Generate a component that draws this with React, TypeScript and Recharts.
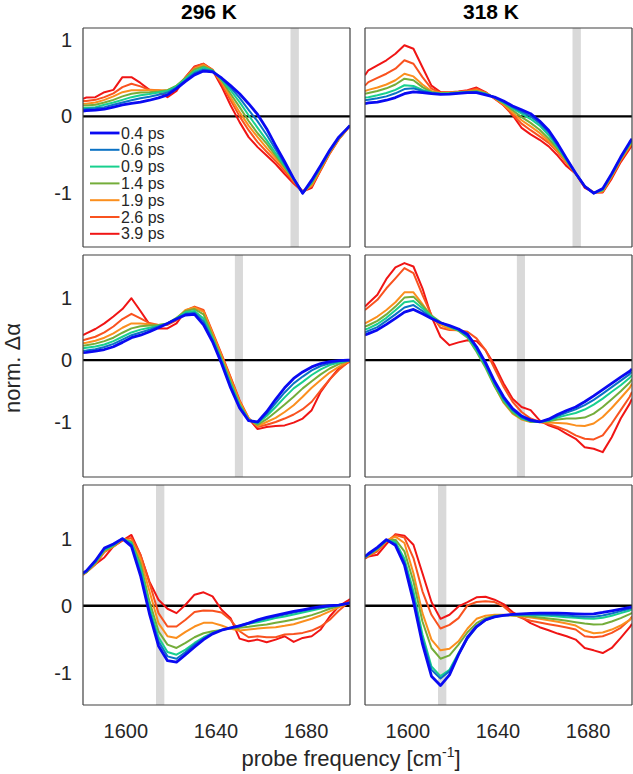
import { LineChart, Line, XAxis, YAxis, ReferenceLine, ReferenceArea } from "recharts";

// probe frequency grid (cm-1)
const FREQ = [
  1581, 1582.5, 1586.5, 1590.5, 1594.5, 1598.5, 1602.5, 1606.5, 1610.5, 1614.5, 1618.5,
  1622.5, 1626.5, 1630.5, 1634.5, 1638.5, 1642.5, 1646.5, 1650.5, 1654.5, 1658.5, 1662.5,
  1666.5, 1670.5, 1674.5, 1678.5, 1682.5, 1686.5, 1690.5, 1694.5, 1698.5, 1699.5,
];

const DELAYS = ["0.4 ps", "0.6 ps", "0.9 ps", "1.4 ps", "1.9 ps", "2.6 ps", "3.9 ps"];
const TEMPS = ["296 K", "318 K"];
const X_TICKS = [1600, 1640, 1680];
const Y_TICKS = [-1, 0, 1];
// grey marker bands, one per row
const BANDS = [
  [1673.1, 1676.8],
  [1648.4, 1652],
  [1613.4, 1617.1],
];

// row 1, 296 K
const top296 = [
  [0.07, 0.075, 0.08, 0.095, 0.12, 0.15, 0.17, 0.185, 0.21, 0.24, 0.28, 0.36, 0.455, 0.54, 0.59, 0.58, 0.5, 0.4, 0.295, 0.165, 0.025, -0.16, -0.38, -0.59, -0.81, -1.0, -0.83, -0.64, -0.44, -0.27, -0.15, -0.12],
  [0.09, 0.095, 0.105, 0.12, 0.15, 0.18, 0.21, 0.235, 0.255, 0.28, 0.31, 0.375, 0.47, 0.565, 0.61, 0.59, 0.495, 0.375, 0.24, 0.085, -0.065, -0.24, -0.43, -0.62, -0.81, -1.0, -0.84, -0.645, -0.445, -0.275, -0.15, -0.12],
  [0.11, 0.11, 0.12, 0.15, 0.18, 0.215, 0.25, 0.275, 0.29, 0.31, 0.33, 0.39, 0.49, 0.585, 0.635, 0.595, 0.48, 0.34, 0.185, 0.015, -0.15, -0.31, -0.48, -0.645, -0.815, -1.0, -0.855, -0.655, -0.45, -0.28, -0.15, -0.12],
  [0.14, 0.14, 0.15, 0.18, 0.215, 0.26, 0.295, 0.31, 0.315, 0.325, 0.34, 0.4, 0.5, 0.61, 0.65, 0.6, 0.47, 0.295, 0.12, -0.06, -0.22, -0.355, -0.51, -0.66, -0.825, -0.995, -0.875, -0.67, -0.46, -0.285, -0.15, -0.12],
  [0.165, 0.165, 0.18, 0.215, 0.26, 0.315, 0.34, 0.34, 0.34, 0.34, 0.34, 0.39, 0.5, 0.62, 0.67, 0.6, 0.45, 0.25, 0.055, -0.12, -0.27, -0.41, -0.54, -0.68, -0.83, -0.985, -0.9, -0.68, -0.47, -0.295, -0.155, -0.125],
  [0.2, 0.2, 0.215, 0.25, 0.3, 0.38, 0.425, 0.39, 0.345, 0.34, 0.315, 0.38, 0.51, 0.64, 0.685, 0.61, 0.425, 0.21, 0.0, -0.18, -0.335, -0.46, -0.58, -0.71, -0.855, -0.97, -0.91, -0.7, -0.485, -0.3, -0.16, -0.13],
  [0.23, 0.245, 0.25, 0.315, 0.345, 0.51, 0.51, 0.435, 0.345, 0.315, 0.25, 0.33, 0.51, 0.65, 0.685, 0.6, 0.39, 0.145, -0.075, -0.27, -0.4, -0.51, -0.62, -0.75, -0.875, -0.98, -0.93, -0.7, -0.48, -0.3, -0.16, -0.13],
];

// row 1, 318 K
const top318 = [
  [0.165, 0.175, 0.185, 0.21, 0.245, 0.295, 0.32, 0.31, 0.295, 0.285, 0.29, 0.3, 0.31, 0.31, 0.28, 0.25, 0.2, 0.135, 0.085, 0.035, -0.06, -0.18, -0.355, -0.55, -0.74, -0.91, -1.0, -0.94, -0.745, -0.53, -0.335, -0.29],
  [0.21, 0.215, 0.235, 0.26, 0.3, 0.355, 0.365, 0.33, 0.305, 0.29, 0.295, 0.305, 0.31, 0.315, 0.29, 0.25, 0.19, 0.12, 0.06, 0.0, -0.09, -0.21, -0.38, -0.56, -0.74, -0.91, -1.0, -0.945, -0.75, -0.535, -0.345, -0.3],
  [0.245, 0.25, 0.275, 0.305, 0.345, 0.405, 0.395, 0.345, 0.31, 0.295, 0.3, 0.31, 0.315, 0.32, 0.295, 0.245, 0.18, 0.105, 0.035, -0.035, -0.12, -0.245, -0.4, -0.57, -0.74, -0.91, -1.0, -0.955, -0.76, -0.54, -0.355, -0.31],
  [0.295, 0.305, 0.33, 0.365, 0.415, 0.49, 0.47, 0.38, 0.315, 0.3, 0.305, 0.31, 0.32, 0.33, 0.3, 0.245, 0.17, 0.08, -0.01, -0.085, -0.175, -0.29, -0.425, -0.58, -0.745, -0.91, -0.995, -0.965, -0.77, -0.555, -0.37, -0.325],
  [0.33, 0.345, 0.375, 0.415, 0.47, 0.555, 0.52, 0.415, 0.33, 0.305, 0.31, 0.315, 0.325, 0.34, 0.305, 0.24, 0.155, 0.05, -0.05, -0.13, -0.215, -0.32, -0.45, -0.595, -0.745, -0.91, -0.99, -0.975, -0.78, -0.565, -0.385, -0.345],
  [0.4, 0.445, 0.5, 0.555, 0.62, 0.73, 0.685, 0.51, 0.36, 0.31, 0.31, 0.32, 0.335, 0.36, 0.31, 0.235, 0.145, 0.025, -0.095, -0.18, -0.26, -0.345, -0.465, -0.61, -0.745, -0.91, -0.99, -0.985, -0.79, -0.575, -0.4, -0.355],
  [0.535, 0.6, 0.665, 0.73, 0.815, 0.925, 0.88, 0.64, 0.4, 0.315, 0.315, 0.325, 0.34, 0.375, 0.315, 0.23, 0.145, 0.015, -0.15, -0.235, -0.305, -0.39, -0.51, -0.65, -0.745, -0.93, -0.99, -0.99, -0.81, -0.595, -0.42, -0.38],
];

// row 2, 296 K
const mid296 = [
  [0.12, 0.125, 0.145, 0.17, 0.215, 0.285, 0.36, 0.4, 0.455, 0.52, 0.59, 0.66, 0.725, 0.735, 0.565, 0.295, -0.055, -0.445, -0.77, -0.975, -0.995, -0.83, -0.63, -0.445, -0.295, -0.19, -0.11, -0.055, -0.025, -0.01, 0.0, 0.0],
  [0.15, 0.155, 0.175, 0.21, 0.26, 0.33, 0.4, 0.445, 0.49, 0.54, 0.59, 0.665, 0.745, 0.76, 0.62, 0.32, -0.025, -0.415, -0.745, -0.97, -1.005, -0.865, -0.69, -0.52, -0.375, -0.265, -0.165, -0.095, -0.05, -0.02, -0.005, 0.0],
  [0.19, 0.2, 0.22, 0.25, 0.305, 0.375, 0.445, 0.49, 0.52, 0.55, 0.59, 0.67, 0.77, 0.79, 0.67, 0.35, -0.005, -0.38, -0.725, -0.96, -1.015, -0.9, -0.755, -0.6, -0.455, -0.35, -0.24, -0.15, -0.08, -0.04, -0.01, -0.005],
  [0.23, 0.24, 0.265, 0.305, 0.36, 0.44, 0.51, 0.545, 0.555, 0.565, 0.59, 0.68, 0.79, 0.82, 0.735, 0.385, 0.025, -0.35, -0.705, -0.955, -1.04, -0.95, -0.835, -0.715, -0.59, -0.455, -0.34, -0.23, -0.135, -0.065, -0.015, -0.005],
  [0.27, 0.28, 0.31, 0.36, 0.43, 0.52, 0.59, 0.59, 0.575, 0.565, 0.575, 0.67, 0.805, 0.845, 0.78, 0.425, 0.065, -0.305, -0.67, -0.94, -1.06, -0.995, -0.93, -0.835, -0.725, -0.59, -0.445, -0.32, -0.2, -0.11, -0.025, -0.01],
  [0.32, 0.335, 0.375, 0.445, 0.54, 0.66, 0.745, 0.67, 0.595, 0.565, 0.565, 0.64, 0.8, 0.86, 0.805, 0.455, 0.095, -0.27, -0.645, -0.93, -1.075, -1.04, -0.995, -0.94, -0.875, -0.79, -0.67, -0.485, -0.31, -0.16, -0.04, -0.015],
  [0.4, 0.43, 0.5, 0.59, 0.7, 0.82, 0.995, 0.79, 0.575, 0.51, 0.51, 0.59, 0.79, 0.845, 0.79, 0.43, 0.08, -0.285, -0.66, -0.94, -1.11, -1.075, -1.06, -1.05, -1.005, -0.94, -0.805, -0.51, -0.31, -0.135, -0.04, -0.015],
];

// row 2, 318 K
const mid318 = [
  [0.405, 0.425, 0.485, 0.575, 0.67, 0.77, 0.815, 0.745, 0.67, 0.6, 0.555, 0.5, 0.415, 0.215, -0.04, -0.34, -0.59, -0.78, -0.9, -0.965, -0.995, -0.95, -0.875, -0.81, -0.755, -0.67, -0.575, -0.475, -0.375, -0.275, -0.18, -0.145],
  [0.445, 0.47, 0.53, 0.63, 0.735, 0.845, 0.885, 0.79, 0.68, 0.6, 0.55, 0.49, 0.39, 0.19, -0.07, -0.365, -0.62, -0.8, -0.92, -0.98, -0.995, -0.965, -0.9, -0.845, -0.79, -0.725, -0.64, -0.54, -0.435, -0.33, -0.225, -0.19],
  [0.49, 0.51, 0.58, 0.68, 0.8, 0.93, 0.95, 0.835, 0.7, 0.6, 0.54, 0.48, 0.375, 0.16, -0.095, -0.39, -0.645, -0.82, -0.935, -0.985, -0.995, -0.975, -0.925, -0.885, -0.85, -0.795, -0.715, -0.62, -0.51, -0.405, -0.285, -0.24],
  [0.54, 0.56, 0.63, 0.735, 0.86, 1.005, 1.02, 0.875, 0.715, 0.61, 0.53, 0.47, 0.36, 0.135, -0.125, -0.42, -0.67, -0.845, -0.945, -0.99, -0.995, -0.985, -0.955, -0.94, -0.94, -0.925, -0.86, -0.755, -0.63, -0.5, -0.36, -0.31],
  [0.59, 0.62, 0.7, 0.805, 0.93, 1.09, 1.09, 0.9, 0.7, 0.565, 0.5, 0.48, 0.405, 0.18, -0.09, -0.415, -0.685, -0.86, -0.955, -0.995, -0.995, -1.005, -1.01, -1.02, -1.05, -1.06, -1.02, -0.915, -0.77, -0.61, -0.445, -0.38],
  [0.805, 0.85, 0.97, 1.155, 1.315, 1.48, 1.4, 1.05, 0.725, 0.52, 0.485, 0.48, 0.455, 0.35, 0.16, -0.135, -0.43, -0.67, -0.835, -0.94, -0.995, -1.03, -1.075, -1.13, -1.21, -1.265, -1.275, -1.21, -1.02, -0.805, -0.59, -0.51],
  [0.86, 0.915, 1.05, 1.305, 1.49, 1.56, 1.505, 1.155, 0.7, 0.375, 0.24, 0.285, 0.32, 0.305, 0.16, -0.08, -0.375, -0.62, -0.755, -0.805, -0.97, -1.05, -1.1, -1.185, -1.265, -1.4, -1.425, -1.48, -1.24, -0.94, -0.7, -0.62],
];

// row 3, 296 K
const bot296 = [
  [0.485, 0.52, 0.67, 0.86, 0.92, 1.0, 0.885, 0.45, -0.12, -0.6, -0.82, -0.84, -0.73, -0.615, -0.505, -0.42, -0.365, -0.33, -0.3, -0.26, -0.21, -0.175, -0.145, -0.115, -0.085, -0.06, -0.035, -0.015, 0.0, 0.01, 0.035, 0.045],
  [0.485, 0.52, 0.67, 0.85, 0.91, 1.0, 0.91, 0.5, -0.085, -0.53, -0.755, -0.79, -0.69, -0.58, -0.49, -0.41, -0.36, -0.33, -0.295, -0.26, -0.225, -0.19, -0.16, -0.13, -0.1, -0.075, -0.05, -0.025, -0.005, 0.01, 0.035, 0.045],
  [0.48, 0.51, 0.65, 0.835, 0.9, 1.0, 0.935, 0.57, -0.025, -0.47, -0.69, -0.73, -0.655, -0.555, -0.47, -0.405, -0.36, -0.33, -0.305, -0.27, -0.245, -0.215, -0.185, -0.16, -0.13, -0.1, -0.07, -0.04, -0.015, 0.005, 0.035, 0.045],
  [0.47, 0.5, 0.635, 0.82, 0.89, 0.995, 0.95, 0.63, 0.065, -0.38, -0.58, -0.63, -0.555, -0.47, -0.41, -0.38, -0.36, -0.34, -0.33, -0.315, -0.295, -0.28, -0.255, -0.23, -0.205, -0.175, -0.14, -0.095, -0.045, -0.005, 0.035, 0.045],
  [0.47, 0.5, 0.63, 0.81, 0.885, 0.995, 0.97, 0.7, 0.215, -0.26, -0.455, -0.48, -0.39, -0.31, -0.255, -0.255, -0.295, -0.345, -0.37, -0.355, -0.34, -0.33, -0.32, -0.3, -0.275, -0.235, -0.195, -0.145, -0.085, -0.025, 0.035, 0.05],
  [0.47, 0.5, 0.62, 0.8, 0.88, 0.985, 1.01, 0.76, 0.34, -0.11, -0.31, -0.31, -0.21, -0.095, -0.07, -0.075, -0.1, -0.21, -0.38, -0.47, -0.455, -0.47, -0.47, -0.43, -0.42, -0.405, -0.37, -0.31, -0.21, -0.075, 0.04, 0.065],
  [0.46, 0.5, 0.62, 0.72, 0.885, 0.97, 1.055, 0.76, 0.36, 0.09, -0.045, -0.11, 0.015, 0.165, 0.2, 0.14, -0.06, -0.185, -0.49, -0.53, -0.505, -0.545, -0.505, -0.455, -0.54, -0.48, -0.455, -0.355, -0.16, -0.01, 0.075, 0.1],
];

// row 3, 318 K
const bot318 = [
  [0.735, 0.775, 0.87, 0.985, 0.9, 0.61, 0.065, -0.57, -1.05, -1.19, -1.03, -0.73, -0.47, -0.31, -0.21, -0.165, -0.145, -0.13, -0.12, -0.115, -0.11, -0.11, -0.11, -0.115, -0.12, -0.125, -0.12, -0.1, -0.075, -0.05, -0.025, -0.015],
  [0.725, 0.765, 0.86, 0.98, 0.92, 0.65, 0.14, -0.505, -0.955, -1.085, -0.975, -0.73, -0.49, -0.32, -0.215, -0.165, -0.145, -0.135, -0.13, -0.13, -0.13, -0.135, -0.14, -0.145, -0.155, -0.165, -0.165, -0.145, -0.115, -0.08, -0.045, -0.035],
  [0.72, 0.76, 0.855, 0.975, 0.95, 0.7, 0.215, -0.43, -0.905, -1.05, -0.955, -0.705, -0.47, -0.305, -0.205, -0.16, -0.14, -0.135, -0.135, -0.14, -0.145, -0.15, -0.16, -0.17, -0.18, -0.19, -0.195, -0.18, -0.15, -0.11, -0.07, -0.055],
  [0.72, 0.755, 0.845, 0.97, 0.985, 0.81, 0.36, -0.235, -0.63, -0.79, -0.74, -0.58, -0.395, -0.26, -0.185, -0.15, -0.14, -0.145, -0.15, -0.16, -0.175, -0.19, -0.205, -0.225, -0.245, -0.265, -0.28, -0.275, -0.235, -0.185, -0.125, -0.105],
  [0.72, 0.75, 0.835, 0.97, 1.03, 0.935, 0.485, -0.11, -0.505, -0.665, -0.64, -0.53, -0.34, -0.195, -0.15, -0.135, -0.135, -0.145, -0.16, -0.175, -0.195, -0.215, -0.24, -0.265, -0.295, -0.37, -0.41, -0.4, -0.355, -0.295, -0.21, -0.175],
  [0.71, 0.74, 0.81, 0.96, 1.055, 1.015, 0.71, 0.215, -0.135, -0.34, -0.285, -0.185, 0.005, 0.055, 0.065, 0.055, -0.01, -0.125, -0.185, -0.225, -0.25, -0.275, -0.3, -0.325, -0.355, -0.455, -0.47, -0.455, -0.405, -0.33, -0.21, -0.16],
  [0.7, 0.735, 0.76, 0.92, 1.065, 1.045, 0.91, 0.485, 0.055, -0.195, -0.135, -0.01, 0.055, 0.125, 0.135, 0.09, 0.025, -0.095, -0.175, -0.26, -0.32, -0.365, -0.415, -0.455, -0.505, -0.63, -0.665, -0.705, -0.63, -0.48, -0.32, -0.27],
];

const PANELS = [
  [top296, top318],
  [mid296, mid318],
  [bot296, bot318],
];

// layout
const COLORS = ["#0a0af2", "#0b72c4", "#18d08e", "#74ad3a", "#fb8f1e", "#f9521f", "#f01515"];
const WIDTHS = [2.8, 2, 2, 2, 2, 2, 2];
const FONT = "'Liberation Sans', Arial, Helvetica, sans-serif";
const FRAME = "#404040";
const TEXT = "#262626";
const X_DOMAIN = [1581, 1699.5];
const COLS = [
  { left: 83, width: 267 },
  { left: 365, width: 267 },
];
const ROWS = [
  { top: 28, height: 219, domain: [-1.7, 1.15] },
  { top: 255, height: 222, domain: [-1.88, 1.69] },
  { top: 485, height: 220, domain: [-1.48, 1.8] },
];

function Panel({ series, row, col }: { series: number[][]; row: number; col: number }) {
  const r = ROWS[row];
  const c = COLS[col];
  const lr = col === 0 ? 50 : 0;
  const lb = row === 2 ? 45 : 0;
  const band = BANDS[row];
  const data = FREQ.map((f, i) => {
    const o: any = { f };
    series.forEach((s, k) => {
      o["s" + k] = s[i];
    });
    return o;
  });
  const order = [6, 5, 4, 3, 2, 1, 0];

  return (
    <div style={{ position: "absolute", left: c.left - lr - 1, top: r.top - 1 }}>
      <LineChart
        width={c.width + lr + 2}
        height={r.height + lb + 2}
        data={data}
        margin={{ top: 1, right: 1, bottom: 1, left: 1 }}
      >
        <XAxis xAxisId="b" type="number" dataKey="f" domain={X_DOMAIN} allowDataOverflow ticks={X_TICKS}
          orientation="bottom" mirror tick={false} tickSize={4} height={10}
          axisLine={{ stroke: FRAME, strokeWidth: 1.2 }} tickLine={{ stroke: FRAME }} />
        <XAxis xAxisId="t" type="number" dataKey="f" domain={X_DOMAIN} allowDataOverflow ticks={X_TICKS}
          orientation="top" mirror tick={false} tickSize={4} height={10}
          axisLine={{ stroke: FRAME, strokeWidth: 1.2 }} tickLine={{ stroke: FRAME }} />
        {row === 2 && (
          <XAxis xAxisId="xl" type="number" dataKey="f" domain={X_DOMAIN} allowDataOverflow ticks={X_TICKS}
            interval={0} orientation="bottom" height={lb} axisLine={false} tickLine={false}
            tickSize={0} tickMargin={19} tick={{ fontSize: 20, fill: TEXT, fontFamily: FONT }} />
        )}
        <YAxis yAxisId="l" type="number" domain={r.domain} allowDataOverflow ticks={Y_TICKS}
          orientation="left" mirror tick={false} tickSize={4} width={10}
          axisLine={{ stroke: FRAME, strokeWidth: 1.2 }} tickLine={{ stroke: FRAME }} />
        <YAxis yAxisId="r" type="number" domain={r.domain} allowDataOverflow ticks={Y_TICKS}
          orientation="right" mirror tick={false} tickSize={4} width={10}
          axisLine={{ stroke: FRAME, strokeWidth: 1.2 }} tickLine={{ stroke: FRAME }} />
        {col === 0 && (
          <YAxis yAxisId="yl" type="number" domain={r.domain} allowDataOverflow ticks={Y_TICKS}
            interval={0} orientation="left" width={lr} axisLine={false} tickLine={false}
            tickSize={0} tickMargin={11} tick={{ fontSize: 20, fill: TEXT, fontFamily: FONT }} />
        )}
        <ReferenceArea xAxisId="b" yAxisId="l" x1={band[0]} x2={band[1]} y1={r.domain[0]} y2={r.domain[1]}
          fill="#d9d9d9" fillOpacity={1} stroke="none" ifOverflow="hidden" />
        <ReferenceLine xAxisId="b" yAxisId="l" y={0} stroke="#000" strokeWidth={2.4} />
        {order.map((k) => (
          <Line
            key={k}
            xAxisId="b"
            yAxisId="l"
            type="linear"
            dataKey={"s" + k}
            stroke={COLORS[k]}
            strokeWidth={WIDTHS[k]}
            strokeLinejoin="round"
            dot={false}
            activeDot={false}
            isAnimationActive={false}
          />
        ))}
      </LineChart>
    </div>
  );
}

export default function App() {
  return (
    <div style={{ position: "absolute", left: 0, top: 0, width: 633, height: 774, background: "#fff", fontFamily: FONT }}>
      {PANELS.map((rowSeries, row) =>
        rowSeries.map((series, col) => <Panel key={row + "-" + col} series={series} row={row} col={col} />)
      )}
      <svg width={633} height={774} style={{ position: "absolute", left: 0, top: 0, pointerEvents: "none" }}>
        {TEMPS.map((t, i) => (
          <text key={t} x={i === 0 ? 209 : 491} y={19} textAnchor="middle" fontSize={21} fontWeight="bold"
            fill="#000" fontFamily={FONT}>
            {t}
          </text>
        ))}
        <text transform="translate(20,368) rotate(-90)" textAnchor="middle" fontSize={22} fill={TEXT} fontFamily={FONT}>
          norm. Δα
        </text>
        <text x={351} y={766} textAnchor="middle" fontSize={22} fill={TEXT} fontFamily={FONT}>
          probe frequency [cm<tspan dy={-9} fontSize={14}>-1</tspan><tspan dy={9}>]</tspan>
        </text>
        {DELAYS.map((d, i) => {
          const y = 133 + i * 16.8;
          return (
            <g key={d}>
              <line x1={90} x2={119.5} y1={y} y2={y} stroke={COLORS[i]} strokeWidth={WIDTHS[i]} />
              <text x={121} y={y + 5.5} fontSize={16} fill={TEXT} fontFamily={FONT}>
                {d}
              </text>
            </g>
          );
        })}
      </svg>
    </div>
  );
}
